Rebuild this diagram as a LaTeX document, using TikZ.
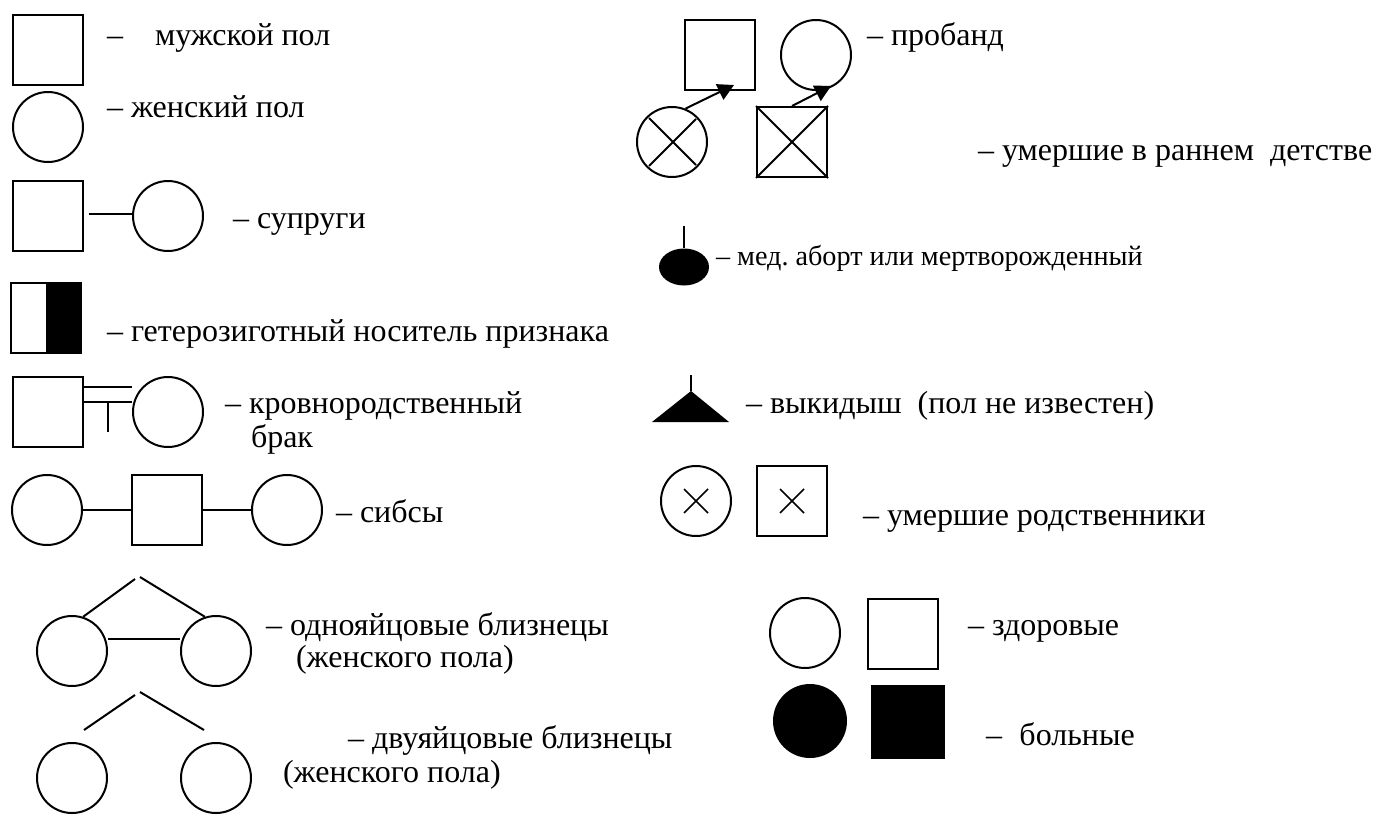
\documentclass[tikz,border=0pt]{standalone}
\usepackage{fontspec}
\setmainfont{Liberation Serif}
\usetikzlibrary{calc,arrows.meta,shapes.geometric}
\begin{document}
\frenchspacing
\begin{tikzpicture}[x=0.5pt,y=-0.5pt,
  line width=1pt,
  male/.style={draw,rectangle,minimum size=35pt,inner sep=0pt,line width=1pt},
  female/.style={draw,circle,minimum size=35pt,inner sep=0pt,line width=1pt},
  lbl/.style={anchor=base west,inner sep=0pt,font=\rmfamily\fontsize{16}{19}\selectfont},
  lblsmall/.style={lbl,font=\rmfamily\fontsize{14.1}{17}\selectfont},
  link/.style={line width=1pt},
  xmark/.style={line width=0.8pt},
  ptr/.style={line width=1pt,-{Triangle[length=8pt,width=8.5pt]}},
]
\useasboundingbox (0,0) rectangle (1376,814);
% 1 male
\node[male] (m1) at (48,50) {};
\node[lbl] (t1) at (106,45) {–\hspace{16pt}мужской пол};
% 2 female
\node[female] (f1) at (48,127) {};
\node[lbl] (t2) at (106,117) {– женский пол};
% 3 spouses
\node[male] (m3) at (48,216) {};
\node[female] (f3) at (168,216) {};
\draw[link] ($(m3.east)+(5,-2)$) -- ($(f3.west)+(0,-2)$);
\node[lbl] (t3) at (232,228) {– супруги};
% 4 heterozygous
\node[male, path picture={\fill (path picture bounding box.north) rectangle (path picture bounding box.south east);}] (m4) at (46,318) {};
\node[lbl] (t4) at (106,341) {– гетерозиготный носитель признака};
% 5 consanguinity
\node[male] (m5) at (48,412) {};
\node[female] (f5) at (168,412) {};
\draw[link] ($(m5.east)+(0,-25)$) -- ($(f5.west)+(0,-25)$);
\draw[link] ($(m5.east)+(0,-10)$) -- ($(f5.west)+(0,-10)$);
\draw[link] ($(m5.east)+(24,-10)$) -- ($(m5.east)+(24,20)$);
\node[lbl] (t5) at (224,413) {– кровнородственный};
\node[lbl] (t5b) at (250,447) {брак};
% 6 sibs
\node[female] (f6a) at (47,510) {};
\node[male] (m6) at (167,510) {};
\node[female] (f6b) at (287,510) {};
\draw[link] (f6a.east) -- (m6.west);
\draw[link] (m6.east) -- (f6b.west);
\node[lbl] (t6) at (335,522) {– сибсы};
% 7 monozygotic twins
\node[female] (f7a) at (72,651) {};
\node[female] (f7b) at (216,651) {};
\coordinate (a7l) at (135,579);
\coordinate (a7r) at (140,577);
\draw[link] (a7l) -- (f7a.72);
\draw[link] (a7r) -- (f7b.108);
\draw[link] ($(f7a.east)+(0,-12)$) -- ($(f7b.west)+(0,-12)$);
\node[lbl] (t7) at (265,635) {– однояйцовые близнецы};
\node[lbl] (t7b) at (295,667) {(женского пола)};
% 8 dizygotic twins
\node[female] (f8a) at (72,778) {};
\node[female] (f8b) at (216,778) {};
\coordinate (a8l) at (135,695);
\coordinate (a8r) at (140,692);
\coordinate (e8l) at (84,730);
\coordinate (e8r) at (204,730);
\draw[link] (a8l) -- (e8l);
\draw[link] (a8r) -- (e8r);
\node[lbl] (t8) at (347,748) {– двуяйцовые близнецы};
\node[lbl] (t8b) at (282,782) {(женского пола)};
% 9 proband
\node[male] (m9) at (720,55) {};
\node[female] (f9) at (816,55) {};
\node[female] (d9a) at (672,142) {};
\draw[link] ($(d9a.center)+(-23,24)$) -- ($(d9a.center)+(24,-23)$);
\draw[link] ($(d9a.center)+(-23,-24)$) -- ($(d9a.center)+(24,23)$);
\node[male] (d9b) at (792,142) {};
\draw[link] (d9b.north west) -- (d9b.south east);
\draw[link] (d9b.north east) -- (d9b.south west);
\draw[ptr] (d9a.68) -- ($(m9.south)+(14,-6)$);
\draw[ptr] (d9b.north) -- ($(f9.center)+(15,31)$);
\node[lbl] (t9) at (866,45) {– пробанд};
\node[lbl] (t9b) at (977,160) {– умершие в раннем\ \ детстве};
% 10 abortion / stillborn
\node[ellipse, fill, minimum width=25pt, minimum height=18.5pt, inner sep=0pt] (e10) at (684,267) {};
\coordinate (s10) at (684,226);
\draw[link] (s10) -- (e10.north);
\node[lblsmall] (t10) at (715,265) {– мед. аборт или мертворожденный};
% 11 miscarriage
\coordinate (a11) at (691,391);
\coordinate (s11) at (691,375);
\fill (a11) -- (652,422) -- (729,422) -- cycle;
\draw[link] (s11) -- (a11);
\node[lbl] (t11) at (745,413) {– выкидыш\ \ (пол не известен)};
% 12 deceased
\node[female] (f12) at (696,501) {};
\node[male] (m12) at (792,501) {};
\draw[xmark] ($(f12.center)+(-12,-12)$) -- ($(f12.center)+(12,12)$);
\draw[xmark] ($(f12.center)+(-12,12)$) -- ($(f12.center)+(12,-12)$);
\draw[xmark] ($(m12.center)+(-12,-12)$) -- ($(m12.center)+(12,12)$);
\draw[xmark] ($(m12.center)+(-12,12)$) -- ($(m12.center)+(12,-12)$);
\node[lbl] (t12) at (862,525) {– умершие родственники};
% 13 healthy
\node[female] (f13) at (805,633) {};
\node[male] (m13) at (903,634) {};
\node[lbl] (t13) at (967,635) {– здоровые};
% 14 affected
\node[circle, fill, minimum size=37pt, inner sep=0pt] (f14) at (810,721) {};
\node[rectangle, fill, minimum size=37pt, inner sep=0pt] (m14) at (908,722) {};
\node[lbl] (t14) at (985,745) {–\hspace{8.75pt}больные};
\end{tikzpicture}
\end{document}
